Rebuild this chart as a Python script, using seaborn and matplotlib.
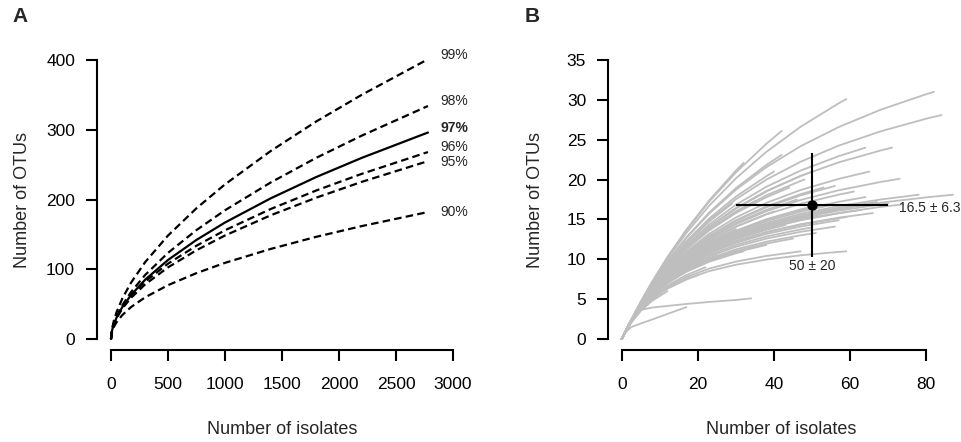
import numpy as np
import pandas as pd
import matplotlib
matplotlib.use("Agg")
import matplotlib.pyplot as plt
import seaborn as sns

sns.set_theme(style="white")
plt.rcParams['font.family'] = ['Liberation Sans', 'DejaVu Sans']

# ---------------- Panel A data ----------------
a_x = [0, 10, 25, 50, 100, 175, 300, 500, 750, 1000, 1400, 1800, 2200, 2780]
a_99 = [0, 15.3, 26.1, 39.0, 58.3, 80.6, 110.3, 148.3, 187.5, 221.7, 269.4, 311.8, 350.1, 401]
a_98 = [0, 12.8, 21.7, 32.5, 48.6, 67.2, 91.9, 123.5, 156.2, 184.6, 224.3, 259.7, 291.6, 334]
a_97 = [0, 12.7, 21.2, 31.2, 46.0, 62.9, 85.1, 113.3, 142.1, 167.0, 201.6, 232.2, 259.7, 296]
a_96 = [0, 13.6, 22.1, 31.9, 46.0, 61.9, 82.4, 108.0, 133.8, 155.9, 186.3, 212.9, 236.8, 268]
a_95 = [0, 12.9, 21.0, 30.3, 43.8, 58.9, 78.4, 102.7, 127.3, 148.4, 177.3, 202.6, 225.3, 255]
a_90 = [0, 10.9, 17.3, 24.4, 34.5, 45.7, 59.8, 77.2, 94.5, 109.2, 129.1, 146.5, 161.9, 182]
a_labels = ["99%", "98%", "97%", "96%", "95%", "90%"]
a_label_y = [407, 341, 302, 275, 254, 182]
a_label_x = 2886

# ---------------- Panel B data ----------------
# each curve: y values at b_grid points below its last x, then its end value
b_grid = [0, 1, 2.5, 5, 8, 12, 17, 23, 30, 38, 47, 57, 68, 80]
b_end_x = [82, 84, 59, 42, 64, 71, 42, 32, 40, 65, 73, 78, 87, 59, 47, 34, 17,
           48, 53, 56, 61, 64, 67, 63, 59, 57, 56, 51, 45, 38, 32, 46, 50, 55,
           60, 52, 47, 43, 40, 36, 30, 27, 25, 22, 35, 44, 38, 50, 66, 70, 29,
           20, 12, 74, 50, 24]
b_curves_y = [
    [0, .98, 2.38, 4.54, 6.89, 9.67, 12.68, 15.74, 18.73, 21.56, 24.19, 26.59, 28.76, 30.71, 31.0],
    [0, .98, 2.36, 4.47, 6.73, 9.34, 12.12, 14.89, 17.54, 20.00, 22.24, 24.26, 26.05, 27.64, 28.1],
    [0, .98, 2.40, 4.62, 7.08, 10.04, 13.32, 16.74, 20.16, 23.48, 26.63, 29.57, 30.1],
    [0, .99, 2.41, 4.66, 7.17, 10.22, 13.64, 17.25, 20.90, 24.49, 26.1],
    [0, .97, 2.35, 4.42, 6.62, 9.14, 11.78, 14.38, 16.84, 19.10, 21.13, 22.94, 24.0],
    [0, .97, 2.34, 4.39, 6.55, 9.02, 11.57, 14.07, 16.42, 18.55, 20.47, 22.16, 23.65, 24.0],
    [0, .98, 2.38, 4.56, 6.92, 9.73, 12.77, 15.88, 18.93, 21.84, 23.1],
    [0, .99, 2.42, 4.67, 7.19, 10.27, 13.73, 17.40, 21.13, 22.1],
    [0, .98, 2.37, 4.49, 6.77, 9.44, 12.28, 15.13, 17.87, 20.43, 21.0],
    [0, .97, 2.31, 4.31, 6.36, 8.65, 10.98, 13.21, 15.25, 17.08, 18.69, 20.09, 21.0],
    [0, .97, 2.29, 4.24, 6.21, 8.38, 10.54, 12.57, 14.41, 16.03, 17.44, 18.66, 19.70, 20.1],
    [0, .96, 2.26, 4.13, 5.97, 7.95, 9.88, 11.64, 13.20, 14.55, 15.70, 16.67, 17.50, 18.1],
    [0, .96, 2.25, 4.10, 5.93, 7.87, 9.75, 11.46, 12.97, 14.27, 15.38, 16.31, 17.10, 17.77, 18.1],
    [0, .93, 2.11, 3.65, 5.03, 6.36, 7.53, 8.52, 9.32, 9.97, 10.50, 10.93, 11.0],
    [0, .93, 2.13, 3.71, 5.14, 6.54, 7.78, 8.84, 9.71, 10.42, 11.0],
    [0, .98, 2.30, 3.65, 3.95, 4.15, 4.40, 4.65, 4.90, 5.1],
    [0, .85, 1.50, 1.95, 2.45, 3.15, 4.0],
    [0, .97, 2.33, 4.36, 6.49, 8.89, 11.37, 13.77, 16.00, 18.03, 19.83, 20.0],
    [0, .97, 2.31, 4.28, 6.30, 8.54, 10.80, 12.95, 14.90, 16.65, 18.17, 19.0],
    [0, .97, 2.30, 4.27, 6.28, 8.51, 10.75, 12.87, 14.80, 16.52, 18.02, 19.2],
    [0, .96, 2.28, 4.21, 6.15, 8.27, 10.36, 12.32, 14.08, 15.63, 16.97, 18.11, 18.5],
    [0, .96, 2.27, 4.16, 6.04, 8.07, 10.06, 11.90, 13.53, 14.96, 16.17, 17.21, 17.8],
    [0, .96, 2.26, 4.11, 5.94, 7.90, 9.80, 11.53, 13.06, 14.38, 15.50, 16.46, 17.2],
    [0, .96, 2.24, 4.07, 5.85, 7.74, 9.55, 11.19, 12.63, 13.86, 14.90, 15.77, 16.2],
    [0, .95, 2.23, 4.03, 5.77, 7.59, 9.33, 10.88, 12.24, 13.38, 14.35, 15.16, 15.3],
    [0, .95, 2.22, 4.01, 5.73, 7.52, 9.22, 10.75, 12.06, 13.18, 14.11, 14.9],
    [0, .95, 2.21, 3.95, 5.62, 7.33, 8.94, 10.36, 11.57, 12.60, 13.45, 14.1],
    [0, .95, 2.19, 3.91, 5.54, 7.20, 8.74, 10.09, 11.25, 12.21, 13.01, 13.3],
    [0, .95, 2.19, 3.89, 5.49, 7.12, 8.62, 9.94, 11.05, 11.98, 12.6],
    [0, .94, 2.18, 3.87, 5.45, 7.05, 8.53, 9.81, 10.90, 11.8],
    [0, .94, 2.18, 3.85, 5.42, 6.99, 8.44, 9.70, 10.75, 11.0],
    [0, .97, 2.30, 4.25, 6.23, 8.42, 10.61, 12.68, 14.55, 16.20, 17.5],
    [0, .96, 2.27, 4.16, 6.05, 8.09, 10.09, 11.94, 13.59, 15.03, 16.26, 16.6],
    [0, .96, 2.27, 4.14, 6.01, 8.02, 9.98, 11.79, 13.39, 14.78, 15.97, 16.8],
    [0, .96, 2.25, 4.10, 5.92, 7.86, 9.73, 11.44, 12.94, 14.23, 15.33, 16.26, 16.5],
    [0, .96, 2.25, 4.08, 5.89, 7.80, 9.64, 11.32, 12.79, 14.05, 15.12, 15.6],
    [0, .96, 2.25, 4.07, 5.87, 7.77, 9.60, 11.25, 12.70, 13.95, 15.0],
    [0, .96, 2.24, 4.05, 5.82, 7.69, 9.48, 11.09, 12.50, 13.70, 14.3],
    [0, .96, 2.29, 4.21, 6.15, 8.28, 10.38, 12.35, 14.12, 15.67, 16.0],
    [0, .96, 2.27, 4.15, 6.02, 8.03, 10.00, 11.81, 13.42, 14.5],
    [0, .96, 2.28, 4.18, 6.09, 8.17, 10.21, 12.11, 13.8],
    [0, .96, 2.26, 4.12, 5.95, 7.92, 9.82, 11.57, 12.5],
    [0, .95, 2.20, 3.92, 5.55, 7.22, 8.77, 10.13, 10.5],
    [0, .94, 2.15, 3.76, 5.24, 6.71, 8.03, 9.0],
    [0, .97, 2.33, 4.36, 6.48, 8.88, 11.36, 13.75, 15.98, 17.3],
    [0, .97, 2.33, 4.35, 6.46, 8.83, 11.27, 13.63, 15.81, 17.79, 19.0],
    [0, .97, 2.34, 4.39, 6.55, 9.00, 11.55, 14.04, 16.37, 18.5],
    [0, .95, 2.22, 3.98, 5.67, 7.42, 9.07, 10.54, 11.80, 12.86, 13.75, 14.0],
    [0, .95, 2.23, 4.03, 5.78, 7.61, 9.35, 10.91, 12.27, 13.43, 14.40, 15.22, 15.8],
    [0, .96, 2.25, 4.09, 5.90, 7.82, 9.67, 11.36, 12.84, 14.11, 15.19, 16.11, 16.88, 17.0],
    [0, .98, 2.36, 4.46, 6.70, 9.29, 12.02, 14.75, 17.0],
    [0, .93, 2.11, 3.64, 5.00, 6.32, 7.47, 8.0],
    [0, .92, 2.07, 3.53, 4.80, 6.0],
    [0, .96, 2.24, 4.07, 5.86, 7.75, 9.57, 11.22, 12.66, 13.89, 14.94, 15.82, 16.57, 16.9],
    [0, .97, 2.34, 4.39, 6.55, 9.01, 11.57, 14.06, 16.41, 18.54, 20.45, 21.0],
    [0, .97, 2.30, 4.25, 6.24, 8.43, 10.63, 12.70, 13.0],
]
b_mean_x, b_sd_x = 50, 20
b_mean_y, b_sd_y = 16.8, 6.5
b_label_x_text = "50 \u00b1 20"
b_label_y_text = "16.5 \u00b1 6.3"

# ---------------- figure ----------------
fig = plt.figure(figsize=(9.61, 4.42), dpi=100)
W, H = 961, 442

def px_axes(l, r, t, b):
    return fig.add_axes([l / W, 1 - b / H, (r - l) / W, (b - t) / H])

axA = px_axes(97.3, 466.7, 48.8, 350.2)
axB = px_axes(608.4, 954.5, 48.8, 350.2)

TICK_FS = 12.5
LAB_FS = 13

def style_axis(ax, xb, yb, xticks, yticks):
    for s in ["top", "right"]:
        ax.spines[s].set_visible(False)
    for s in ["left", "bottom"]:
        ax.spines[s].set_linewidth(1.5)
        ax.spines[s].set_color("black")
    ax.spines["bottom"].set_bounds(*xb)
    ax.spines["left"].set_bounds(*yb)
    ax.set_xticks(xticks)
    ax.set_yticks(yticks)
    ax.tick_params(axis="both", direction="out", length=8, width=1.5,
                   colors="black", labelsize=TICK_FS, left=True, bottom=True)
    ax.tick_params(axis="x", pad=11.5)
    ax.tick_params(axis="y", pad=8)
    ax.grid(False)
    ax.set_facecolor("white")

# Panel A
dash = (0, (3.4, 1.9))
seriesA = [a_99, a_98, a_97, a_96, a_95, a_90]
for lab, ys in zip(a_labels, seriesA):
    ls = "-" if lab == "97%" else dash
    sns.lineplot(x=a_x, y=ys, ax=axA, color="black", linewidth=1.6,
                 linestyle=ls, estimator=None, sort=False)
for lab, ly in zip(a_labels, a_label_y):
    axA.text(a_label_x, ly, lab, fontsize=10, va="center", ha="left",
             fontweight="bold" if lab == "97%" else "normal", clip_on=False)
axA.set_xlim(-120, 3120)
axA.set_ylim(-16, 416)
style_axis(axA, (0, 3000), (0, 400), [0, 500, 1000, 1500, 2000, 2500, 3000],
           [0, 100, 200, 300, 400])
axA.set_xlabel("Number of isolates", fontsize=LAB_FS)
axA.set_ylabel("Number of OTUs", fontsize=LAB_FS)

# Panel B
rows = []
for i, (xe, ys) in enumerate(zip(b_end_x, b_curves_y)):
    xs = [g for g in b_grid if g < xe] + [xe]
    if len(xs) != len(ys):
        raise ValueError(f"curve {i}: {len(xs)} x vs {len(ys)} y")
    for xv, yv in zip(xs, ys):
        rows.append((i, xv, yv))
dfB = pd.DataFrame(rows, columns=["curve", "isolates", "otus"])
sns.lineplot(data=dfB, x="isolates", y="otus", units="curve", estimator=None,
             color="#BEBEBE", linewidth=1.3, ax=axB, sort=False)
axB.errorbar([b_mean_x], [b_mean_y], xerr=[b_sd_x], yerr=[b_sd_y], fmt="o",
             color="black", ms=6.5, elinewidth=1.5, capsize=0, zorder=5)
axB.text(b_mean_x + b_sd_x + 2.8, b_mean_y - 0.4, b_label_y_text, fontsize=10,
         ha="left", va="center", clip_on=False)
axB.text(b_mean_x, b_mean_y - b_sd_y - 1.2, b_label_x_text, fontsize=10,
         ha="center", va="center")
axB.set_xlim(-3.5, 87.4)
axB.set_ylim(-1.4, 36.4)
style_axis(axB, (0, 80), (0, 35), [0, 20, 40, 60, 80], list(range(0, 36, 5)))
axB.set_xlabel("Number of isolates", fontsize=LAB_FS)
axB.set_ylabel("Number of OTUs", fontsize=LAB_FS)

for ax in (axA, axB):
    ax.xaxis.set_label_coords(0.5, (350.2 - 430) / (350.2 - 48.8))
    ax.xaxis.label.set_va("center")
    ax.yaxis.label.set_va("center")
axA.yaxis.set_label_coords((23 - 97.3) / (466.7 - 97.3), 0.5)
axB.yaxis.set_label_coords((535 - 608.4) / (954.5 - 608.4), 0.5)

fig.text(20 / W, 1 - 17 / H, "A", fontsize=15, fontweight="bold",
         ha="center", va="center")
fig.text(532 / W, 1 - 17 / H, "B", fontsize=15, fontweight="bold",
         ha="center", va="center")

fig.savefig("out.png", dpi=100, facecolor="white")
